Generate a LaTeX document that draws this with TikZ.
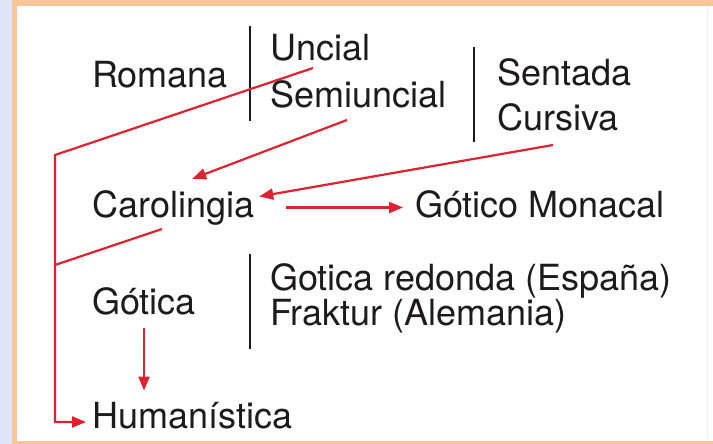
\documentclass[tikz,border=0pt]{standalone}
\usepackage{fontspec}
\setmainfont{TeX Gyre Heros}
\usetikzlibrary{arrows.meta}
\definecolor{inkred}{RGB}{222,35,48}
\definecolor{inkgray}{RGB}{30,27,28}
\definecolor{frameorange}{RGB}{248,198,152}
\definecolor{stripblue}{RGB}{221,229,246}
\tikzset{
  lbl/.style     = {anchor=base west,inner sep=0pt,text=inkgray,font=\fontsize{36}{40}\selectfont},
  sepbar/.style  = {inkgray,line width=1.8pt},
  redline/.style = {inkred,line width=2.2pt},
  redarr/.style  = {-{Triangle[length=14pt,width=11pt]},redline}
}

\begin{document}
\begin{tikzpicture}[x=1pt,y=-1pt]
  \useasboundingbox (0,0) rectangle (713,444);
  % frame
  \fill[white] (0,0) rectangle (713,444);
  \fill[stripblue] (0,0) rectangle (13,444);
  \fill[frameorange] (12,0) rectangle (713,6);
  \fill[frameorange] (12,0) rectangle (17,444);
  \fill[frameorange] (12,441) rectangle (713,444);
  \draw[gray!12,line width=0.8pt] (707,6) -- (707,440);
  % names of the scripts
  \node[lbl] (romana)      at (92,88)   {Romana};
  \node[lbl] (uncial)      at (270,61)  {Uncial};
  \node[lbl] (semiuncial)  at (270,108) {Semiuncial};
  \node[lbl] (sentada)     at (497,85)  {Sentada};
  \node[lbl] (cursiva)     at (497,131) {Cursiva};
  \node[lbl] (carolingia)  at (92,217)  {Carolingia};
  \node[lbl] (monacal)     at (415,217) {Gótico Monacal};
  \node[lbl] (gotica)      at (92,314)  {Gótica};
  \node[lbl] (redonda)     at (270,290) {Gotica redonda (España)};
  \node[lbl] (fraktur)     at (270,325) {Fraktur (Alemania)};
  \node[lbl] (humanistica) at (92,428)  {Humanística};
  % bars
  \draw[sepbar] (250,26)  -- (250,121);
  \draw[sepbar] (474,47)  -- (474,142);
  \draw[sepbar] (250,254) -- (250,349);
  % free ends of the red lines
  \coordinate (unctail)   at (313,68);
  \coordinate (leftbend)  at (55,155);
  \coordinate (semitail)  at (347,120);
  \coordinate (curtail)   at (553,145);
  \coordinate (caroltail) at (162,229);
  \coordinate (leftjoin)  at (55,265);
  % connections
  \draw[redarr,shorten >=6pt] (unctail) -- (leftbend) |- ([yshift=6pt]humanistica.base west);
  \draw[redline] (caroltail) -- (leftjoin);
  \draw[redarr] (semitail) -- ([xshift=19pt,yshift=11pt]carolingia.north);
  \draw[redarr] (curtail) -- ([xshift=5pt,yshift=11pt]carolingia.east);
  \draw[redarr,shorten <=32pt,shorten >=12pt] (carolingia.east) -- (carolingia.east -| monacal.west);
  \draw[redarr,shorten <=13pt,shorten >=11pt] (gotica.south) -- (gotica.south |- humanistica.north);
\end{tikzpicture}
\end{document}
